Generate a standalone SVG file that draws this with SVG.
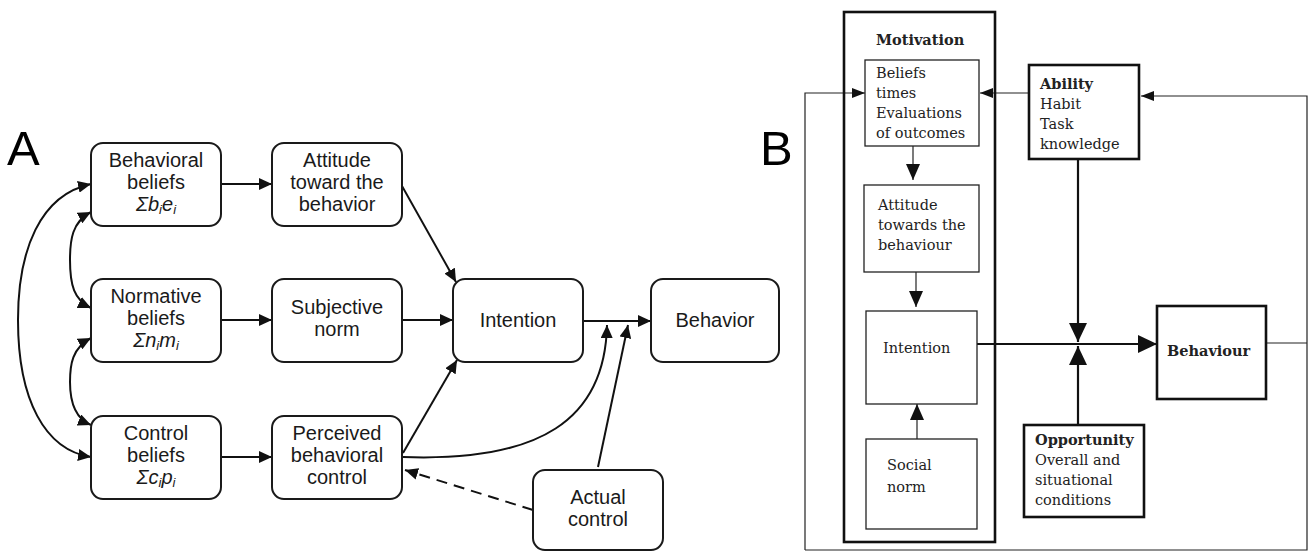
<svg xmlns="http://www.w3.org/2000/svg" width="1308" height="551" viewBox="0 0 1308 551">
<defs>
<marker id="ah" markerUnits="userSpaceOnUse" markerWidth="14" markerHeight="12" refX="13" refY="6" orient="auto-start-reverse"><path d="M0,0 L13,6 L0,12 z" fill="#111"/></marker>
<marker id="bh" markerUnits="userSpaceOnUse" markerWidth="20" markerHeight="18" refX="19" refY="9" orient="auto"><path d="M0,0 L19,9 L0,18 z" fill="#111"/></marker>
<marker id="bm" markerUnits="userSpaceOnUse" markerWidth="16" markerHeight="14" refX="16" refY="7" orient="auto"><path d="M0,0 L16,7 L0,14 z" fill="#111"/></marker>
<marker id="bs" markerUnits="userSpaceOnUse" markerWidth="13" markerHeight="10" refX="13" refY="5" orient="auto"><path d="M0,0 L13,5 L0,10 z" fill="#111"/></marker>
</defs>
<style>
.a rect{fill:#fff;stroke:#1a1a1a;stroke-width:2}
.a text{font-family:"Liberation Sans",Arial,sans-serif;font-size:20px;fill:#1a1a1a;text-anchor:middle}
.ca{fill:none;stroke:#111;stroke-width:2}
.b text{font-family:"DejaVu Serif","Liberation Serif",serif;font-size:14.5px;fill:#222}
.thin{fill:#fff;stroke:#222;stroke-width:1.3}
.thick{fill:none;stroke:#111;stroke-width:2.6}
.cb{fill:none;stroke:#222;stroke-width:1.2}
.cbt{fill:none;stroke:#111;stroke-width:2.2}
.bold{font-weight:bold}
.lbl{font-family:"Liberation Sans",Arial,sans-serif;font-size:49px;fill:#000}
</style>
<rect width="1308" height="551" fill="#fff"/>
<text class="lbl" x="7" y="165">A</text>
<text class="lbl" x="760" y="165">B</text>

<g id="connectors-a">
<path class="ca" d="M221,184 L272,184" marker-end="url(#ah)"/>
<path class="ca" d="M221,320 L272,320" marker-end="url(#ah)"/>
<path class="ca" d="M221,457 L272,457" marker-end="url(#ah)"/>
<path class="ca" d="M402,320 L453,320" marker-end="url(#ah)"/>
<path class="ca" d="M402,186 L456,282" marker-end="url(#ah)"/>
<path class="ca" d="M403,453 L457,360" marker-end="url(#ah)"/>
<path class="ca" d="M583,321 L651,321" marker-end="url(#ah)"/>
<path class="ca" d="M403,457 C540,462 605,420 607,325" marker-end="url(#ah)"/>
<path class="ca" d="M598,467 L628,325" marker-end="url(#ah)"/>
<path class="ca" d="M533,510 L405,470" stroke-dasharray="11,7" marker-end="url(#ah)"/>
<path class="ca" d="M91,184 C40,195 18,250 18,320 C18,400 45,450 91,457" marker-start="url(#ah)" marker-end="url(#ah)"/>
<path class="ca" d="M91,212 C72,222 70,240 70,260 C70,285 74,300 91,308" marker-start="url(#ah)" marker-end="url(#ah)"/>
<path class="ca" d="M91,338 C72,348 70,365 70,382 C70,400 74,418 91,425" marker-start="url(#ah)" marker-end="url(#ah)"/>
</g>

<g id="a-behavioral-beliefs" class="a"><rect x="91" y="143" width="130" height="83" rx="12"/>
<text x="156" y="167">Behavioral</text><text x="156" y="189">beliefs</text>
<text x="156" y="211" font-style="italic">Σb<tspan font-size="13" dy="3">i</tspan><tspan dy="-3">e</tspan><tspan font-size="13" dy="3">i</tspan></text></g>
<g id="a-attitude" class="a"><rect x="272" y="143" width="130" height="83" rx="12"/>
<text x="337" y="167">Attitude</text><text x="337" y="189">toward the</text><text x="337" y="211">behavior</text></g>
<g id="a-normative-beliefs" class="a"><rect x="91" y="279" width="130" height="83" rx="12"/>
<text x="156" y="303">Normative</text><text x="156" y="325">beliefs</text>
<text x="156" y="347" font-style="italic">Σn<tspan font-size="13" dy="3">i</tspan><tspan dy="-3">m</tspan><tspan font-size="13" dy="3">i</tspan></text></g>
<g id="a-subjective-norm" class="a"><rect x="272" y="279" width="130" height="83" rx="12"/>
<text x="337" y="314">Subjective</text><text x="337" y="336">norm</text></g>
<g id="a-control-beliefs" class="a"><rect x="91" y="416" width="130" height="83" rx="12"/>
<text x="156" y="440">Control</text><text x="156" y="462">beliefs</text>
<text x="156" y="484" font-style="italic">Σc<tspan font-size="13" dy="3">i</tspan><tspan dy="-3">p</tspan><tspan font-size="13" dy="3">i</tspan></text></g>
<g id="a-perceived-control" class="a"><rect x="272" y="416" width="130" height="83" rx="12"/>
<text x="337" y="440">Perceived</text><text x="337" y="462">behavioral</text><text x="337" y="484">control</text></g>
<g id="a-intention" class="a"><rect x="453" y="279" width="130" height="83" rx="12"/>
<text x="518" y="327">Intention</text></g>
<g id="a-behavior" class="a"><rect x="651" y="279" width="128" height="83" rx="12"/>
<text x="715" y="327">Behavior</text></g>
<g id="a-actual-control" class="a"><rect x="533" y="470" width="130" height="80" rx="12"/>
<text x="598" y="504">Actual</text><text x="598" y="526">control</text></g>

<g id="connectors-b">
<path class="cb" d="M805,550 L805,93 L865,93" marker-end="url(#bs)"/>
<path class="cb" d="M805,550 L1307,550 L1307,96 L1141,96" marker-end="url(#bs)"/>
<path class="cb" d="M1266,343 L1307,343"/>
<path class="cb" d="M1029,93 L980,93" marker-end="url(#bs)"/>
<path class="cb" d="M913,146 L913,180" marker-end="url(#bm)"/>
<path class="cb" d="M916,272 L916,307" marker-end="url(#bm)"/>
<path class="cb" d="M917,439 L917,404" marker-end="url(#bm)"/>
<path class="cbt" d="M977,344 L1157,344" marker-end="url(#bh)"/>
<path class="cbt" d="M1078,159 L1078,342" marker-end="url(#bh)"/>
<path class="cbt" d="M1078,425 L1078,346" marker-end="url(#bh)"/>
</g>

<g id="b-motivation" class="b"><rect class="thick" x="844" y="12" width="151" height="530"/>
<text class="bold" x="876" y="45">Motivation</text></g>
<g id="b-beliefs" class="b"><rect class="thin" x="865" y="60" width="114" height="86"/>
<text x="876" y="78">Beliefs</text><text x="876" y="98">times</text><text x="876" y="118">Evaluations</text><text x="876" y="138">of outcomes</text></g>
<g id="b-attitude" class="b"><rect class="thin" x="864" y="185" width="115" height="87"/>
<text x="878" y="210">Attitude</text><text x="878" y="230">towards the</text><text x="878" y="250">behaviour</text></g>
<g id="b-intention" class="b"><rect class="thin" x="866" y="311" width="111" height="93"/>
<text x="883" y="353">Intention</text></g>
<g id="b-social-norm" class="b"><rect class="thin" x="866" y="439" width="111" height="90"/>
<text x="887" y="470">Social</text><text x="887" y="492">norm</text></g>
<g id="b-ability" class="b"><rect class="thick" x="1029" y="65" width="110" height="94" fill="#fff"/>
<text class="bold" x="1040" y="89">Ability</text><text x="1040" y="109">Habit</text><text x="1040" y="129">Task</text><text x="1040" y="149">knowledge</text></g>
<g id="b-behaviour" class="b"><rect class="thick" x="1157" y="306" width="109" height="93" stroke-width="2.2"/>
<text class="bold" x="1167" y="356">Behaviour</text></g>
<g id="b-opportunity" class="b"><rect class="thick" x="1024" y="425" width="120" height="92"/>
<text class="bold" x="1035" y="445">Opportunity</text><text x="1035" y="465">Overall and</text><text x="1035" y="485">situational</text><text x="1035" y="505">conditions</text></g>
</svg>
